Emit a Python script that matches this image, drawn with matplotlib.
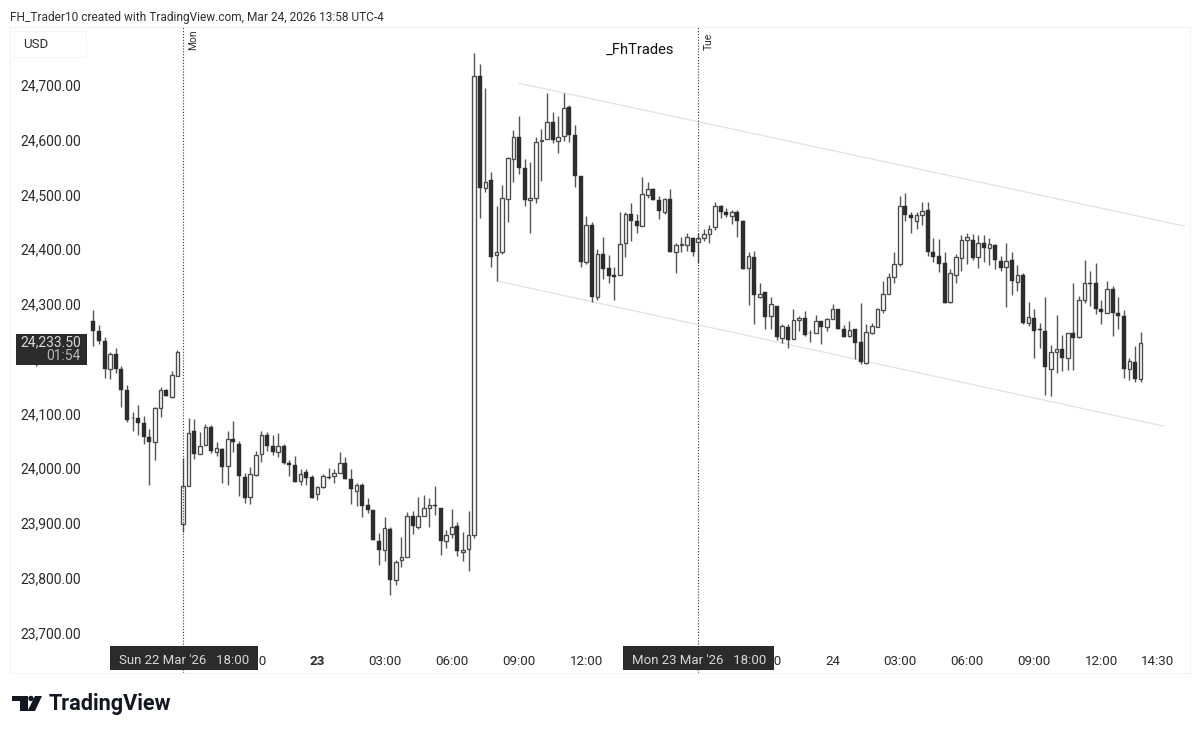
import matplotlib
matplotlib.use("Agg")
import matplotlib.pyplot as plt
from matplotlib.patches import Rectangle, Polygon, Ellipse
from matplotlib.transforms import ScaledTranslation
import numpy as np

plt.rcParams['font.family'] = ['Roboto', 'DejaVu Sans']

first_bar = -16   # bars are counted in 15-minute steps from Sun 22 Mar 18:00
opens = [
 24271,24252,24235,24184,24210,24184,24145,24094,24094,24084,
 24058,24050,24112,24144,24132,24171,23900,23969,24069,24028,
 24045,24077,24031,24037,24006,24055,24047,23986,23949,23990,
 24027,24062,24043,24032,24042,24012,24008,23978,23995,23985,
 23954,23967,23986,23987,23994,24012,23983,23961,23972,23934,
 23926,23869,23853,23890,23798,23834,23839,23914,23895,23915,
 23930,23934,23930,23869,23882,23896,23849,23854,23880,24718,
 24514,24528,24391,24397,24494,24567,24607,24550,24491,24496,
 24599,24603,24635,24600,24609,24661,24610,24536,24379,24446,
 24315,24393,24368,24354,24354,24413,24466,24454,24445,24501,
 24512,24492,24470,24493,24397,24410,24410,24423,24415,24423,
 24429,24442,24481,24470,24463,24470,24453,24367,24387,24315,
 24324,24279,24299,24240,24260,24237,24272,24277,24249,24248,
 24270,24259,24274,24292,24257,24243,24256,24233,24194,24248,
 24260,24291,24321,24352,24374,24481,24464,24454,24464,24473,
 24396,24389,24377,24305,24355,24386,24419,24419,24388,24414,
 24405,24410,24381,24370,24382,24342,24355,24268,24277,24256,
 24253,24183,24214,24220,24203,24248,24242,24309,24341,24340,
 24292,24285,24329,24285,24279,24184,24196,24165]
closes = [
 24252,24235,24184,24210,24184,24145,24090,24093,24084,24058,
 24050,24112,24144,24133,24172,24215,23969,24066,24028,24043,
 24077,24034,24038,24005,24055,24049,23988,23947,23991,24026,
 24062,24042,24031,24042,24012,24007,23976,23992,23984,23948,
 23968,23988,23984,23994,24012,23982,23964,23972,23933,23926,
 23870,23852,23892,23797,23830,23840,23915,23896,23914,23930,
 23934,23932,23869,23879,23895,23851,23853,23879,24719,24514,
 24524,24388,24397,24496,24568,24606,24550,24491,24495,24597,
 24602,24635,24601,24607,24660,24610,24536,24379,24447,24314,
 24393,24366,24353,24352,24412,24466,24454,24445,24503,24511,
 24492,24472,24493,24397,24410,24411,24424,24397,24423,24429,
 24439,24480,24470,24464,24470,24453,24366,24389,24318,24321,
 24278,24301,24241,24262,24236,24273,24276,24246,24248,24271,
 24260,24275,24293,24257,24242,24254,24231,24195,24251,24261,
 24292,24321,24351,24374,24481,24464,24459,24465,24472,24396,
 24388,24375,24304,24358,24388,24418,24424,24385,24414,24405,
 24411,24383,24368,24381,24343,24355,24268,24278,24253,24254,
 24186,24214,24220,24203,24248,24240,24310,24340,24339,24293,
 24287,24329,24285,24279,24184,24197,24164,24231]
highs = [
 24291,24263,24241,24215,24221,24189,24153,24104,24117,24097,
 24073,24113,24150,24147,24179,24218,24020,24094,24092,24068,
 24083,24080,24049,24039,24070,24089,24051,23993,24004,24034,
 24070,24068,24062,24066,24046,24017,24025,24000,24000,23989,
 23969,23992,24002,24000,24031,24022,24000,23975,23974,23947,
 23926,23883,23912,23895,23835,23877,23922,23924,23950,23953,
 23947,23969,23930,23889,23927,23904,23885,23924,24761,24741,
 24696,24543,24480,24520,24570,24620,24646,24567,24562,24606,
 24621,24687,24652,24646,24688,24666,24629,24536,24463,24452,
 24402,24424,24391,24369,24469,24469,24487,24466,24534,24525,
 24514,24500,24495,24511,24413,24424,24431,24425,24431,24438,
 24446,24488,24482,24477,24474,24474,24456,24397,24399,24341,
 24324,24314,24299,24265,24265,24292,24280,24289,24254,24281,
 24270,24277,24302,24292,24263,24271,24257,24303,24265,24267,
 24294,24343,24359,24396,24499,24505,24469,24469,24489,24489,
 24422,24420,24396,24365,24393,24427,24432,24429,24427,24427,
 24422,24411,24390,24414,24396,24373,24358,24305,24292,24268,
 24315,24227,24281,24246,24249,24341,24317,24383,24362,24376,
 24310,24344,24335,24314,24291,24203,24225,24251]
lows = [
 24226,24228,24167,24164,24176,24114,24087,24069,24063,24047,
 23971,24016,24095,24133,24131,24171,23886,23969,24019,24028,
 24044,24030,24024,23975,23972,24031,23952,23939,23936,23987,
 24013,24034,24026,24022,24010,23988,23976,23971,23971,23948,
 23944,23965,23983,23975,23994,23982,23936,23932,23913,23921,
 23870,23826,23832,23770,23789,23822,23839,23882,23891,23915,
 23895,23916,23843,23856,23874,23842,23832,23814,23875,24459,
 24507,24369,24343,24393,24452,24525,24539,24481,24431,24486,
 24526,24603,24595,24578,24600,24597,24516,24369,24375,24306,
 24309,24348,24340,24310,24354,24388,24416,24431,24445,24496,
 24491,24457,24466,24397,24358,24397,24399,24390,24376,24416,
 24413,24437,24458,24460,24448,24425,24366,24300,24265,24312,
 24256,24256,24236,24230,24221,24237,24253,24244,24233,24248,
 24229,24253,24274,24256,24241,24241,24201,24192,24193,24247,
 24260,24286,24321,24341,24371,24454,24432,24439,24447,24390,
 24379,24360,24304,24304,24341,24363,24374,24382,24368,24379,
 24373,24365,24363,24296,24318,24326,24265,24262,24204,24221,
 24136,24133,24175,24180,24181,24181,24240,24304,24298,24284,
 24265,24285,24243,24256,24166,24163,24159,24160]

price_ticks = [23700,23800,23900,24000,24100,24200,24300,24400,24500,24600,24700]
time_ticks = [12,24,36,48,60,72,104,116,128,140,152,164,174]
time_labels = ['21:00','23','03:00','06:00','09:00','12:00','21:00','24','03:00','06:00','09:00','12:00','14:30']
day_lines = [0,92]
day_line_names = ['Mon','Tue']
channel_upper_x = [60,178.9]
channel_upper_y = [24705,24444]
channel_lower_x = [56,175]
channel_lower_y = [24344,24079]

W, H = 1200, 734
fig = plt.figure(figsize=(W/100, H/100), dpi=100, facecolor='white')
L, R, T, B = 10, 1190, 27, 673
ax = fig.add_axes([L/W, 1-B/H, (R-L)/W, (B-T)/H])
x0, step = 183.0, 5.6
ax.set_xlim((L-x0)/step, (R-x0)/step)
ppt = 0.5475
ax.set_ylim(24700-(B-86)/ppt, 24700-(T-86)/ppt)

for s in ax.spines.values():
    s.set_color('#f3f3f3'); s.set_linewidth(0.8)

o, c, h, l = map(np.array, (opens, closes, highs, lows))
xs = np.arange(len(o)) + first_bar
up = c >= o
DARK = '#2d2d2d'
ax.vlines(xs, l, h, color='#555555', lw=1.0, zorder=2)
bottom = np.minimum(o, c); height = np.maximum(np.abs(c-o), 1.2)
ax.bar(xs[~up], height[~up], bottom=bottom[~up], width=0.68, color=DARK,
       edgecolor=DARK, lw=0.3, zorder=2.2)
ax.bar(xs[up], height[up], bottom=bottom[up], width=0.64, color='#fbfbfb',
       edgecolor='#4a4a4a', lw=0.95, zorder=2.2)

ax.plot(channel_upper_x, channel_upper_y, color='#e0e0e0', lw=0.85, zorder=1.5)
ax.plot(channel_lower_x, channel_lower_y, color='#e0e0e0', lw=0.85, zorder=1.5)
for d in day_lines:
    ax.axvline(d, color='#333333', lw=0.8, ls=(0,(1,1.6)), zorder=2.6)

ax.set_yticks(price_ticks)
ax.set_yticklabels([f'{p:,.2f}' for p in price_ticks])
ax.tick_params(axis='y', length=0, direction='in', pad=-51, labelsize=10, labelcolor='#2a2a2a')
lift = ScaledTranslation(0, 1/100, fig.dpi_scale_trans)
for t in ax.get_yticklabels():
    t.set_transform(t.get_transform() + lift)
ax.set_xticks(time_ticks)
ax.set_xticklabels(time_labels)
ax.tick_params(axis='x', length=0, direction='in', pad=-13, labelsize=9.6, labelcolor='#2a2a2a')
ax.get_xticklabels()[1].set_fontweight('bold')
ax.set_axisbelow(False)

def fx(x): return x/W
def fy(y): return 1-y/H
def box(x1,y1,x2,y2,**kw):
    fig.add_artist(Rectangle((fx(x1),fy(y2)),(x2-x1)/W,(y2-y1)/H,transform=fig.transFigure,**kw))
def txt(x,y,s,**kw):
    kw.setdefault('va','center'); kw.setdefault('ha','left')
    fig.text(fx(x),fy(y),s,**kw)

txt(10,18,'FH_Trader10 created with TradingView.com, Mar 24, 2026 13:58 UTC-4',fontsize=8.6,color='#2f2f2f')
box(14,31,86,57,facecolor='white',edgecolor='#f4f4f4',lw=0.8,zorder=5)
txt(23,44.5,'USD',fontsize=9.5,color='#2a2a2a',zorder=6)
txt(193,39.5,day_line_names[0],fontsize=7.4,rotation=90,ha='center',color='#2a2a2a')
txt(708.5,41,day_line_names[1],fontsize=7.4,rotation=90,ha='center',color='#2a2a2a')
txt(606,50,'_FhTrades',fontsize=10.6,color='#111111')

box(16,334,87,365,facecolor='#2b2b2b',edgecolor='none',zorder=5)
txt(81,342,'24,233.50',fontsize=10,color='#d8d8d8',ha='right',zorder=6)
txt(81,356,'01:54',fontsize=10,color='#b8b8b8',ha='right',zorder=6)

box(110,646,258,670,facecolor='#2b2b2b',edgecolor='none',zorder=5)
txt(119,660,"Sun 22 Mar '26   18:00",fontsize=9.5,color='#d8d8d8',zorder=6)
box(623,646,774,670,facecolor='#2b2b2b',edgecolor='none',zorder=5)
txt(632,660,"Mon 23 Mar '26   18:00",fontsize=9.5,color='#d8d8d8',zorder=6)

# TradingView logo
logo = '#131722'
def poly(pts):
    fig.add_artist(Polygon([(fx(a),fy(b)) for a,b in pts],closed=True,transform=fig.transFigure,
                           facecolor=logo,edgecolor='none',zorder=6))
poly([(12,696),(28,696),(28,711),(20,711),(20,701),(12,701)])
poly([(35,696),(42,696),(35,711),(27.5,711)])
fig.add_artist(Ellipse((fx(31),fy(698.5)),5.4/W,5.4/H,transform=fig.transFigure,facecolor=logo,edgecolor='none',zorder=6))
txt(48.5,704,'TradingView',fontsize=15.6,fontweight='bold',color=logo)

fig.savefig('out.png', dpi=100, facecolor='white')
